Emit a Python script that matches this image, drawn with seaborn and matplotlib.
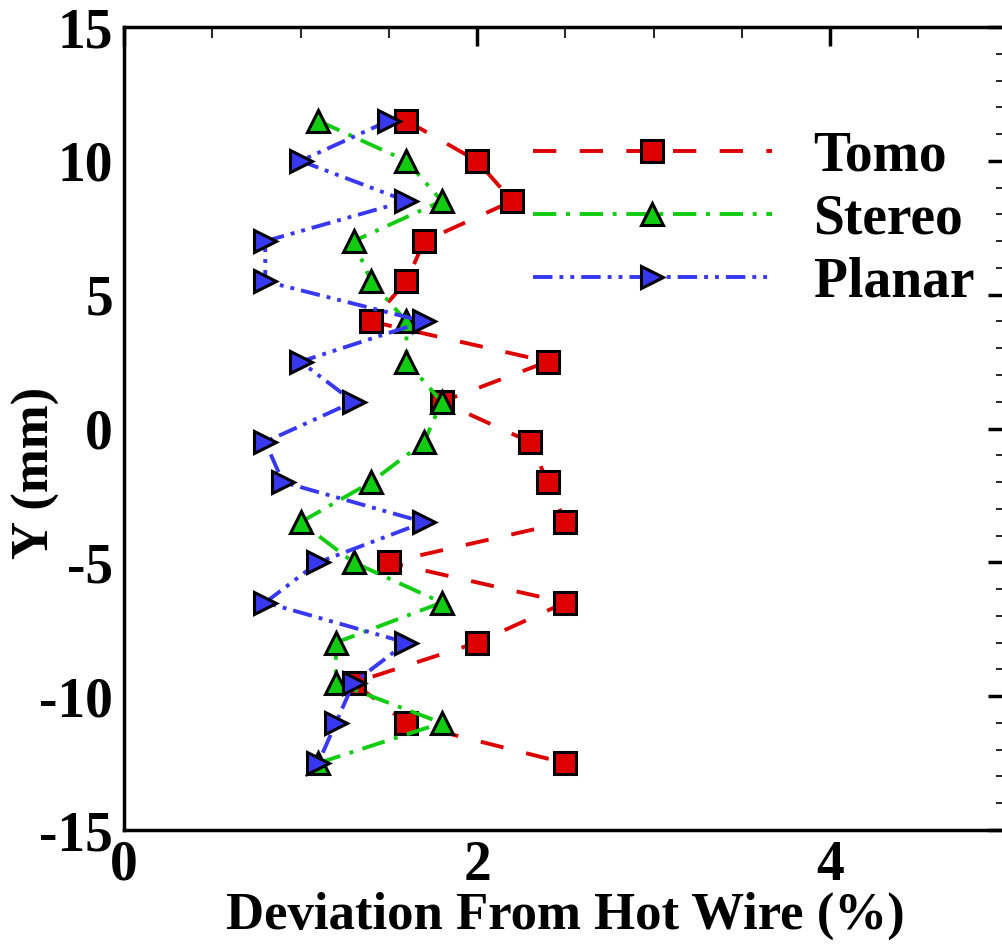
import pandas as pd
import matplotlib
matplotlib.use("Agg")
import matplotlib.pyplot as plt
import seaborn as sb
from matplotlib.ticker import MultipleLocator

# Data
y_pos = [11.5, 10, 8.5, 7, 5.5, 4, 2.5, 1, -0.5, -2, -3.5, -5, -6.5, -8, -9.5, -11, -12.5]
tomo = [1.6, 2.0, 2.2, 1.7, 1.6, 1.4, 2.4, 1.8, 2.3, 2.4, 2.5, 1.5, 2.5, 2.0, 1.3, 1.6, 2.5]
stereo = [1.1, 1.6, 1.8, 1.3, 1.4, 1.6, 1.6, 1.8, 1.7, 1.4, 1.0, 1.3, 1.8, 1.2, 1.2, 1.8, 1.1]
planar = [1.5, 1.0, 1.6, 0.8, 0.8, 1.7, 1.0, 1.3, 0.8, 0.9, 1.7, 1.1, 0.8, 1.6, 1.3, 1.2, 1.1]
methods = ["Tomo", "Stereo", "Planar"]

df = pd.DataFrame({
    "Y": y_pos * 3,
    "dev": tomo + stereo + planar,
    "method": [m for m in methods for _ in y_pos],
    "order": list(range(len(y_pos))) * 3,
})

sb.set_style("white")
plt.rcParams["font.family"] = ["Liberation Serif", "DejaVu Serif"]
plt.rcParams["font.weight"] = "bold"
plt.rcParams["axes.unicode_minus"] = False
plt.rcParams["text.color"] = "black"
plt.rcParams["axes.labelcolor"] = "black"
plt.rcParams["xtick.color"] = "black"
plt.rcParams["ytick.color"] = "black"

colors = {"Tomo": "#DD0000", "Stereo": "#11CC11", "Planar": "#3838F0"}
markers = {"Tomo": "s", "Stereo": "^", "Planar": ">"}
dashes = {"Tomo": (6, 6), "Stereo": (6, 2.5, 1, 2.5), "Planar": (5, 1.8, 1, 1.8, 1, 1.8)}

fig = plt.figure(figsize=(10.02, 9.46), dpi=100)
ax = fig.add_axes([0.1238, 0.1226, 0.8808, 0.8488])

for m in methods:
    sub = df[df["method"] == m].sort_values("order")
    sb.lineplot(data=sub, x="dev", y="Y", sort=False, estimator=None, ax=ax,
                color=colors[m], linewidth=2.8, dashes=False,
                marker=markers[m], markersize=16, markeredgecolor="black",
                markeredgewidth=2.2, markerfacecolor=colors[m], label=m)
    ax.lines[-1].set_dashes(dashes[m])

ax.set_xlim(0, 5)
ax.set_ylim(-15, 15)
ax.xaxis.set_major_locator(MultipleLocator(2))
ax.xaxis.set_minor_locator(MultipleLocator(0.5))
ax.yaxis.set_major_locator(MultipleLocator(5))
ax.yaxis.set_minor_locator(MultipleLocator(1))
ax.tick_params(which="both", direction="in", top=True, right=True,
               labelsize=40, pad=8, colors="black")
ax.tick_params(axis="x", which="both", pad=7)
ax.tick_params(which="major", length=14, width=2.5)
ax.tick_params(which="minor", length=8, width=1.2)
for lab in ax.get_xticklabels() + ax.get_yticklabels():
    lab.set_fontweight("bold")
for sp in ax.spines.values():
    sp.set_linewidth(2.5)
    sp.set_color("black")

ax.set_xlabel("Deviation From Hot Wire (%)", fontsize=38, fontweight="bold", labelpad=0)
ax.set_ylabel("Y (mm)", fontsize=38, fontweight="bold")
ax.yaxis.set_label_coords(36 / 1002, 0.5, transform=fig.transFigure)
ax.yaxis.label.set_va("center")

leg = ax.legend(loc="upper left", bbox_to_anchor=(533 / 1002, 1 - 130 / 946),
                bbox_transform=fig.transFigure, frameon=False, fontsize=40,
                handlelength=4.3, handletextpad=0.75, labelspacing=0.2,
                borderpad=0, borderaxespad=0, numpoints=1)
for t in leg.get_texts():
    t.set_fontweight("bold")
    t.set_color("black")

fig.savefig("out.png", dpi=100)
